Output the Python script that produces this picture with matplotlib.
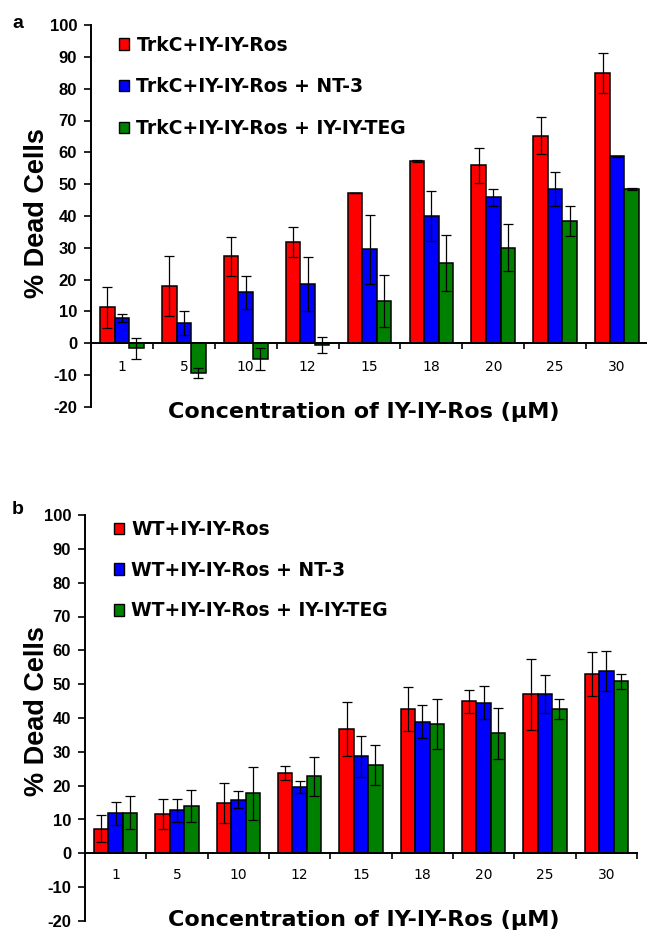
import matplotlib
matplotlib.use("Agg")
import matplotlib.pyplot as plt
from matplotlib.patches import Rectangle
import numpy as np

categories = ["1", "5", "10", "12", "15", "18", "20", "25", "30"]

# Panel a
a_labels = ["TrkC+IY-IY-Ros", "TrkC+IY-IY-Ros + NT-3", "TrkC+IY-IY-Ros + IY-IY-TEG"]
a_red = [11.3, 18.0, 27.3, 31.8, 47.2, 57.2, 55.9, 65.2, 85.0]
a_red_err = [6.5, 9.3, 6.2, 4.7, 0.0, 0.3, 5.5, 5.8, 6.3]
a_blue = [8.0, 6.3, 16.0, 18.6, 29.5, 40.0, 45.9, 48.4, 58.7]
a_blue_err = [1.3, 3.7, 5.3, 8.4, 10.8, 8.0, 2.7, 5.3, 0.3]
a_green = [-1.6, -9.4, -5.0, -0.5, 13.2, 25.2, 30.1, 38.3, 48.6]
a_green_err = [3.3, 1.5, 3.5, 2.5, 8.2, 8.7, 7.5, 4.7, 0.3]

# Panel b
b_labels = ["WT+IY-IY-Ros", "WT+IY-IY-Ros + NT-3", "WT+IY-IY-Ros + IY-IY-TEG"]
b_red = [7.3, 11.7, 14.9, 23.8, 36.7, 42.7, 45.0, 47.0, 53.0]
b_red_err = [4.0, 4.5, 5.9, 2.0, 7.9, 6.5, 3.4, 10.4, 6.5]
b_blue = [11.8, 12.8, 15.9, 19.6, 28.7, 38.9, 44.5, 47.0, 53.8]
b_blue_err = [3.4, 3.4, 2.6, 1.8, 6.1, 4.8, 4.9, 5.6, 5.9]
b_green = [12.0, 14.0, 17.7, 22.8, 26.1, 38.2, 35.5, 42.7, 50.8]
b_green_err = [4.8, 4.7, 7.8, 5.8, 5.8, 7.5, 7.5, 3.0, 2.1]

yticks = list(range(-20, 101, 10))
colors = ["#ff0000", "#0000ff", "#008000"]
xlabel = "Concentration of IY-IY-Ros (\u03bcM)"
ylabel = "% Dead Cells"

W, H = 647, 931
fig = plt.figure(figsize=(W / 100, H / 100), dpi=100)

def fx(px):
    return px / W

def fy(py):
    return 1 - py / H

TICKFONT = dict(family="Liberation Sans", weight="bold", size=12)

def panel(rect, series, errs, labels, leg_xy, leg_spacing, xlab_y, lab_pad,
          letter, letter_xy, ylab_val):
    ax = fig.add_axes(rect)
    x = np.arange(len(categories))
    bw = 0.235
    for i, (vals, er) in enumerate(zip(series, errs)):
        pos = x + (i - 1) * bw
        ax.bar(pos, vals, width=bw, color=colors[i], edgecolor="black",
               linewidth=1.1, zorder=2)
        ax.errorbar(pos, vals, yerr=er, fmt="none", ecolor="black",
                    elinewidth=0.9, capsize=3.5, capthick=0.9, zorder=3)
    ax.set_xlim(-0.5, len(categories) - 0.5)
    ax.set_ylim(-20, 100)
    ax.set_yticks(yticks)
    ax.set_yticklabels([str(v) for v in yticks], fontdict=TICKFONT)
    ax.set_xticks(x)
    ax.set_xticklabels(categories, fontdict=TICKFONT)
    ax.set_xticks(np.arange(len(categories)) + 0.5, minor=True)
    ax.tick_params(axis="x", which="major", length=0, pad=lab_pad)
    ax.tick_params(axis="x", which="minor", length=4, width=1.2, direction="out")
    ax.tick_params(axis="y", length=5, width=1.2, direction="out", pad=5)
    for s in ["top", "right"]:
        ax.spines[s].set_visible(False)
    ax.spines["bottom"].set_position(("data", 0))
    ax.spines["bottom"].set_linewidth(1.4)
    ax.spines["left"].set_linewidth(1.4)
    ax.spines["bottom"].set_zorder(4)
    ax.patch.set_alpha(0)
    handles = [Rectangle((0, 0), 1, 1, facecolor=c, edgecolor="black", linewidth=1.0)
               for c in colors]
    fig.legend(handles, labels, loc="upper left",
               bbox_to_anchor=(fx(leg_xy[0]), fy(leg_xy[1])),
               frameon=False, borderpad=0, borderaxespad=0,
               handlelength=0.55, handleheight=0.55, handletextpad=0.38,
               labelspacing=leg_spacing,
               prop=dict(family="DejaVu Sans", weight="bold", size=13.5))
    fig.text(fx(37), rect[1] + rect[3] * (ylab_val + 20) / 120, ylabel,
             rotation=90, ha="center", va="center",
             family="Liberation Sans", weight="bold", size=19.5)
    fig.text(fx(364), fy(xlab_y), xlabel, ha="center", va="center",
             family="DejaVu Sans", weight="bold", size=16)
    fig.text(fx(letter_xy[0]), fy(letter_xy[1]), letter, ha="left", va="baseline",
             family="Liberation Sans", weight="bold", size=14)
    return ax

# panel a: axis left 91px, right 648px, y100 at 25px, y-20 at 407px
panel([fx(91), fy(407), fx(648) - fx(91), fy(25) - fy(407)],
      [a_red, a_blue, a_green], [a_red_err, a_blue_err, a_green_err], a_labels,
      (119, 35.6), 1.21, 412, 12, "a", (12, 28), 41)

# panel b: axis left 85px, right 637px, y100 at 515px, y-20 at 921px
panel([fx(85), fy(921), fx(637) - fx(85), fy(515) - fy(921)],
      [b_red, b_blue, b_green], [b_red_err, b_blue_err, b_green_err], b_labels,
      (114, 520.0), 1.16, 920, 10.5, "b", (12, 514), 42)

fig.savefig("out.png", dpi=100)
